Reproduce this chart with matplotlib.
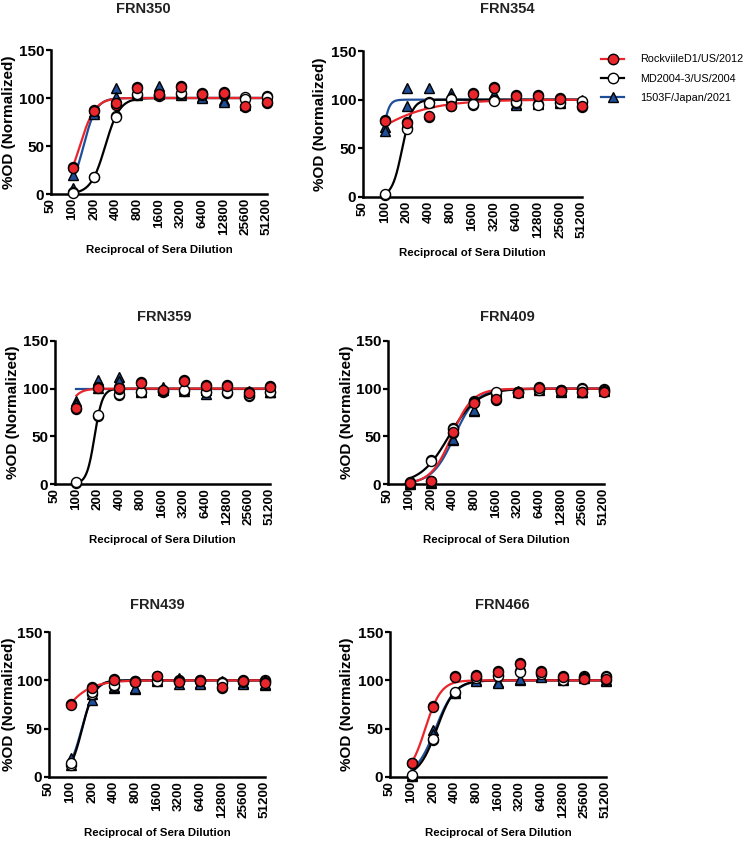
import numpy as np
import matplotlib
matplotlib.use("Agg")
import matplotlib.pyplot as plt
from matplotlib.lines import Line2D

plt.rcParams['font.family'] = ['Liberation Sans', 'DejaVu Sans']

dilutions = [100, 200, 400, 800, 1600, 3200, 6400, 12800, 25600, 51200]
tick_labels = ["50"] + [str(d) for d in dilutions]
tick_values = [50] + dilutions
strains = ["RockviileD1/US/2012", "MD2004-3/US/2004", "1503F/Japan/2021"]
panel_titles = ["FRN350", "FRN354", "FRN359", "FRN409", "FRN439", "FRN466"]

# two replicates per dilution, [rep1, rep2]
frn350_rock = [[28, 87, 93, 111, 103, 112, 105, 106, 91, 95], [27, 86, 95, 110, 104, 111, 104, 105, 92, 96]]
frn350_md = [[2, 18, 81, 103, 103, 104, 104, 103, 101, 102], [1, 18, 80, 104, 102, 105, 103, 104, 99, 101]]
frn350_jp = [[20, 85, 110, 105, 113, 105, 101, 98, 97, 102], [6, 83, 101, 103, 104, 103, 100, 96, 93, 101]]

frn354_rock = [[79, 77, 82, 94, 107, 113, 105, 105, 102, 92], [78, 76, 83, 93, 106, 112, 104, 104, 101, 93]]
frn354_md = [[2, 71, 98, 100, 95, 100, 97, 96, 98, 98], [3, 70, 97, 101, 96, 99, 98, 95, 97, 99]]
frn354_jp = [[72, 112, 112, 107, 100, 103, 96, 97, 98, 100], [68, 93, 98, 103, 99, 106, 95, 96, 97, 99]]

frn359_rock = [[79, 102, 100, 107, 98, 109, 104, 104, 96, 103], [80, 101, 101, 106, 99, 108, 103, 103, 95, 102]]
frn359_md = [[1, 71, 93, 97, 97, 98, 96, 95, 92, 96], [2, 72, 94, 96, 98, 99, 97, 96, 93, 97]]
frn359_jp = [[87, 109, 112, 97, 102, 100, 94, 100, 98, 97], [84, 101, 108, 98, 99, 98, 99, 101, 97, 96]]

frn409_rock = [[0, 3, 54, 86, 88, 96, 102, 99, 97, 98], [1, 3, 55, 85, 89, 95, 101, 98, 96, 97]]
frn409_md = [[1, 25, 59, 86, 95, 97, 100, 99, 101, 100], [2, 24, 58, 87, 96, 96, 99, 98, 100, 99]]
frn409_jp = [[0, 1, 46, 77, 97, 98, 100, 98, 96, 98], [1, 2, 47, 78, 96, 97, 99, 97, 97, 99]]

frn439_rock = [[76, 93, 101, 99, 105, 99, 100, 92, 100, 98], [75, 92, 100, 98, 104, 98, 99, 93, 99, 97]]
frn439_md = [[12, 86, 94, 98, 100, 100, 100, 98, 99, 100], [14, 88, 95, 99, 99, 99, 99, 97, 98, 99]]
frn439_jp = [[20, 80, 92, 91, 99, 102, 97, 99, 97, 95], [12, 86, 93, 92, 100, 96, 96, 97, 96, 96]]

frn466_rock = [[15, 73, 104, 106, 110, 118, 110, 104, 102, 100], [14, 72, 103, 105, 109, 117, 109, 103, 101, 101]]
frn466_md = [[1, 38, 87, 103, 106, 110, 108, 101, 104, 104], [2, 39, 88, 102, 105, 109, 107, 100, 103, 103]]
frn466_jp = [[1, 49, 87, 100, 98, 100, 104, 100, 103, 100], [2, 45, 88, 99, 97, 101, 103, 101, 102, 99]]

# fitted sigmoid parameters (EC50, hill slope) per strain
frn350_fit = [(126, 4.1), (285, 4.3), (142, 4.9)]
frn354_fit = [(35, 0.96), (173, 6.3), (89.5, 10)]
frn359_fit = [(60, 5), (179, 7.9), (10, 5)]
frn409_fit = [(385, 3.0), (352, 2.2), (420, 2.8)]
frn439_fit = [(57.5, 2.07), (145, 5.0), (143, 4.7)]
frn466_fit = [(155, 3.94), (225, 3.46), (215, 3.2)]

panel_data = [
    (frn350_rock, frn350_md, frn350_jp, frn350_fit),
    (frn354_rock, frn354_md, frn354_jp, frn354_fit),
    (frn359_rock, frn359_md, frn359_jp, frn359_fit),
    (frn409_rock, frn409_md, frn409_jp, frn409_fit),
    (frn439_rock, frn439_md, frn439_jp, frn439_fit),
    (frn466_rock, frn466_md, frn466_jp, frn466_fit),
]

RED = "#e8262c"
BLUE = "#1f4e99"
line_colors = [RED, "black", BLUE]
face_colors = [RED, "white", BLUE]
markers = ["o", "o", "^"]

W, H = 750, 841
# axes boxes in pixels: left, top, right, bottom
boxes = [(51, 50, 267, 194), (363, 51, 582, 197),
         (55, 341, 270, 484), (388, 341, 604, 484),
         (49, 632, 265, 777), (390, 632, 606, 777)]
title_pos = [(143, 9), (507, 9), (164, 317), (507, 317), (157, 605), (502, 605)]
ylabel_x = [8.5, 320, 13, 347, 8.5, 347]


def sigmoid(x, ec50, hill):
    return 100.0 / (1.0 + (ec50 / x) ** hill)


fig = plt.figure(figsize=(W / 100, H / 100), dpi=100)
xfit = np.logspace(np.log10(100), np.log10(51200), 400)

for i, (l, t, r, b) in enumerate(boxes):
    ax = fig.add_axes([l / W, 1 - b / H, (r - l) / W, (b - t) / H])
    rock, md, jp, fits = panel_data[i]
    series = [rock, md, jp]
    # draw order: blue, black, red on top
    for k in [2, 1, 0]:
        ec50, hill = fits[k]
        ax.plot(xfit, sigmoid(xfit, ec50, hill), color=line_colors[k], lw=1.6, zorder=2)
    for k in [2, 1, 0]:
        for rep in series[k]:
            ax.plot(dilutions, rep, linestyle="none", marker=markers[k], ms=7.2 if k < 2 else 7.8,
                    mfc=face_colors[k], mec="black", mew=1.0, clip_on=False, zorder=5)
    ax.set_xscale("log")
    ax.set_xlim(50, 51200)
    ax.set_ylim(0, 150)
    ax.set_xticks(tick_values)
    ax.set_xticklabels(tick_labels, rotation=90, fontsize=9.6, fontweight="bold")
    ax.minorticks_off()
    ax.set_yticks([0, 50, 100, 150])
    ax.set_yticklabels(["0", "50", "100", "150"], fontsize=11, fontweight="bold")
    ax.tick_params(axis="x", length=0, pad=3)
    ax.tick_params(axis="y", length=3.5, width=1.6, pad=1.5)
    for s in ["top", "right"]:
        ax.spines[s].set_visible(False)
    for s in ["left", "bottom"]:
        ax.spines[s].set_linewidth(1.8)
    ax.set_ylabel("%OD (Normalized)", fontsize=11, fontweight="bold")
    ax.yaxis.set_label_coords((ylabel_x[i] - l) / (r - l), 0.5)
    ax.yaxis.label.set_verticalalignment("center")
    ax.set_xlabel("Reciprocal of Sera Dilution", fontsize=8.2, fontweight="bold", labelpad=7)
    tx, ty = title_pos[i]
    fig.text(tx / W, 1 - ty / H, panel_titles[i], ha="center", va="center",
             fontsize=10.5, fontweight="bold", color="#222222")

handles = [Line2D([0], [0], color=line_colors[k], lw=1.6, marker=markers[k], ms=7.5,
                  mfc=face_colors[k], mec="black", mew=1.0) for k in range(3)]
fig.legend(handles, strains, loc="upper left", bbox_to_anchor=(597 / W, 1 - 50 / H),
           frameon=False, fontsize=7.8, handlelength=2.1, handletextpad=1.5,
           labelspacing=0.85, borderaxespad=0)

fig.savefig("out.png", dpi=100)
